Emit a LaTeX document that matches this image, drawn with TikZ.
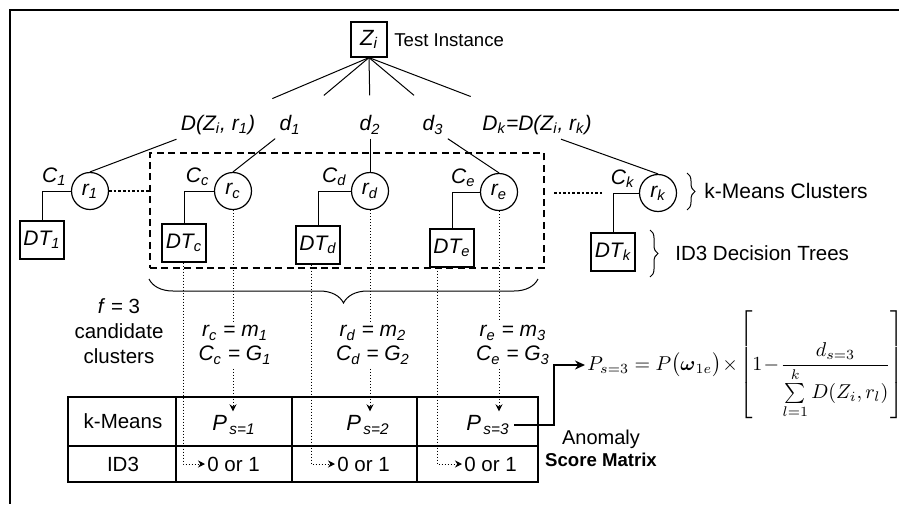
\documentclass[tikz,border=0pt]{standalone}
\usepackage{amsmath}
\usepackage[no-math]{fontspec}
\setmainfont{Liberation Sans}
\usetikzlibrary{arrows.meta,positioning,decorations.pathreplacing}
\tikzset{
  >={Stealth[length=5pt,width=4.5pt]},
  txt/.style={font=\fontsize{10.25}{12.5}\selectfont,inner sep=1pt,align=center},
  lbl/.style={font=\fontsize{10.5}{12}\selectfont\itshape,inner sep=2pt,align=center},
  box/.style={draw,line width=0.6pt,minimum width=22pt,minimum height=19pt,inner sep=1pt,
    font=\fontsize{10.5}{12}\selectfont\itshape},
  clus/.style={circle,draw,line width=0.6pt,minimum size=18.5pt,inner sep=0pt,
    font=\fontsize{10.5}{12}\selectfont\itshape},
  link/.style={line width=0.5pt},
  dotlink/.style={line width=1.3pt,dash pattern=on 1.3pt off 1pt},
  trace/.style={line width=0.5pt,densely dotted},
  trace arrow/.style={trace,-{Stealth[length=3.5pt,width=3.5pt]}},
  grp box/.style={draw,line width=1pt,dash pattern=on 3.5pt off 2.2pt},
  cbrace/.style={link,decorate,decoration={brace,amplitude=#1}},
  cbrace/.default=4pt,
}

\begin{document}
\begin{tikzpicture}[x=0.5pt,y=-0.5pt]
  \useasboundingbox (0,0) rectangle (899,504);
  \draw[line width=0.6pt] (899,10) -- (10,10) -- (10,504);
  % test instance and distances
  \node[box,minimum width=18pt,minimum height=17.5pt,font=\fontsize{11}{12}\selectfont\itshape] (zi) at (369,39.5) {Z\textsubscript{i}};
  \node[txt,anchor=west,font=\fontsize{9.3}{11}\selectfont] (test) at (392,40) {Test Instance};
  \node[lbl] (dz1) at (218,125) {D(Z\textsubscript{i}, r\textsubscript{1})};
  \node[lbl] (d1) at (290,125) {d\textsubscript{1}};
  \node[lbl] (d2) at (370,125) {d\textsubscript{2}};
  \node[lbl] (d3) at (433,125) {d\textsubscript{3}};
  \node[lbl] (dk) at (537,125) {D\textsubscript{k}=D(Z\textsubscript{i}, r\textsubscript{k})};
  \draw[link,shorten >=15.7pt] (zi.south) -- ([xshift=-8pt]dz1.north east);
  \draw[link,shorten >=12.4pt] (zi.south) -- (d1.north east);
  \draw[link,shorten >=8pt] (zi.south) -- (d2.north);
  \draw[link,shorten >=12.4pt] (zi.south) -- (d3.north);
  \draw[link,shorten >=20pt] (zi.south) -- ([xshift=15pt]dk.north west);
  % clusters and trees
  \node[clus] (r1) at (90,191) {r\textsubscript{1}};
  \node[clus] (rc) at (233,191) {r\textsubscript{c}};
  \node[clus] (rd) at (370,191) {r\textsubscript{d}};
  \node[clus] (re) at (499,192) {r\textsubscript{e}};
  \node[clus] (rk) at (658,193) {r\textsubscript{k}};
  \node[lbl,left=0pt of r1,yshift=7pt] (c1) {C\textsubscript{1}};
  \node[lbl,left=0pt of rc,yshift=7pt] (cc) {C\textsubscript{c}};
  \node[lbl,left=0pt of rd,yshift=7pt] (cd) {C\textsubscript{d}};
  \node[lbl,left=0pt of re,yshift=7pt] (ce) {C\textsubscript{e}};
  \node[lbl,left=0pt of rk,yshift=7pt] (ck) {C\textsubscript{k}};
  \node[box] (dt1) at (42,240) {DT\textsubscript{1}};
  \node[box] (dtc) at (184,243) {DT\textsubscript{c}};
  \node[box] (dtd) at (318,245) {DT\textsubscript{d}};
  \node[box] (dte) at (452,248) {DT\textsubscript{e}};
  \node[box] (dtk) at (613,252) {DT\textsubscript{k}};
  \foreach \r/\t in {r1/dt1,rc/dtc,rd/dtd,re/dte,rk/dtk}
    \draw[link] (\r.west) -| (\t.north);
  \draw[link] (dz1.south west) -- (r1.north);
  \draw[link] (d1.south west) -- (rc.north);
  \draw[link] (d2.south) -- (rd.north);
  \draw[link] (d3.south east) -- (re.north);
  \draw[link] ([xshift=12pt]dk.south) -- (rk.north);
  \node[grp box,minimum width=197pt,minimum height=57.5pt] (grp) at (347,210.5) {};
  \draw[dotlink] (r1.east) -- (r1.east -| grp.west);
  \draw[dotlink,shorten <=4.5pt,shorten >=18.5pt] (grp.east |- rk.west) -- (rk.west);
  \draw[cbrace=12pt,decoration={mirror}] ([yshift=-5pt]grp.south west) -- ([xshift=-3.5pt,yshift=-5pt]grp.south east);
  \draw[cbrace] (687,173) -- (687,210);
  \node[txt,anchor=west,font=\fontsize{10.5}{12.5}\selectfont] (kmc) at (702,191) {k-Means Clusters};
  \draw[cbrace] (650,230) -- (650,277);
  \node[txt,anchor=west] (idt) at (673,253) {ID3 Decision Trees};
  % candidates
  \node[txt] (cand) at (119,331) {\textit{f} = 3\\candidate\\clusters};
  \node[lbl] (mc) at (235,345) {r\textsubscript{c} = m\textsubscript{1}\\C\textsubscript{c} = G\textsubscript{1}};
  \node[lbl] (md) at (373,345) {r\textsubscript{d} = m\textsubscript{2}\\C\textsubscript{d} = G\textsubscript{2}};
  \node[lbl] (me) at (513,345) {r\textsubscript{e} = m\textsubscript{3}\\C\textsubscript{e} = G\textsubscript{3}};
  % score matrix
  \draw[line width=0.6pt] (68,397) rectangle (538,482);
  \draw[line width=0.6pt] (68,446) -- (538,446);
  \foreach \x in {176,292,417}
    \draw[line width=0.6pt] (\x,397) -- (\x,482);
  \node[txt] (km) at (123,421) {k-Means};
  \node[txt] (id) at (123,464) {ID3};
  \node[lbl,font=\fontsize{11}{12}\selectfont\itshape] (p1) at (234,425) {P\textsubscript{\,s=1}};
  \node[lbl,font=\fontsize{11}{12}\selectfont\itshape] (p2) at (368,425) {P\textsubscript{\,s=2}};
  \node[lbl,font=\fontsize{11}{12}\selectfont\itshape] (p3) at (488,425) {P\textsubscript{\,s=3}};
  \node[txt,anchor=west] (o1) at (205,464) {0 or 1};
  \node[txt,anchor=west] (o2) at (335,464) {0 or 1};
  \node[txt,anchor=west] (o3) at (462,464) {0 or 1};
  \foreach \r/\m/\p in {rc/mc/p1,rd/md/p2,re/me/p3}{
    \draw[trace] (\r.south) -- (\r.south |- \m.north);
    \draw[trace arrow] (\r.south |- \m.south) -- (\r.south |- \p.north);
  }
  \draw[trace arrow] ([xshift=-0.5pt]dtc.south) |- (o1.west);
  \draw[trace arrow] ([xshift=-3.5pt]dtd.south) |- (o2.west);
  \draw[trace arrow] ([xshift=-7.5pt]dte.south) |- (o3.west);
  \node[txt,font=\fontsize{10}{11}\selectfont] (asm) at (601,448) {Anomaly\\{\fontsize{9.3}{11}\selectfont\bfseries Score Matrix}};
  \node[anchor=west,inner sep=1pt,font=\fontsize{10}{12}\selectfont] (frm) at (585,365)
    {$P_{s=3} = P\big(\boldsymbol{\omega}_{1e}\big)\!\times\!\left[\vrule height 24.5pt depth 21.5pt width 0pt 1\!-\!\dfrac{d_{s=3}}{\textstyle\sum\limits_{l=1}^{k} D(Z_i,r_l)}\right]$};
  \draw[line width=1pt,->] (p3.east) -- ++(40,0) |- (frm.west);
\end{tikzpicture}
\end{document}
